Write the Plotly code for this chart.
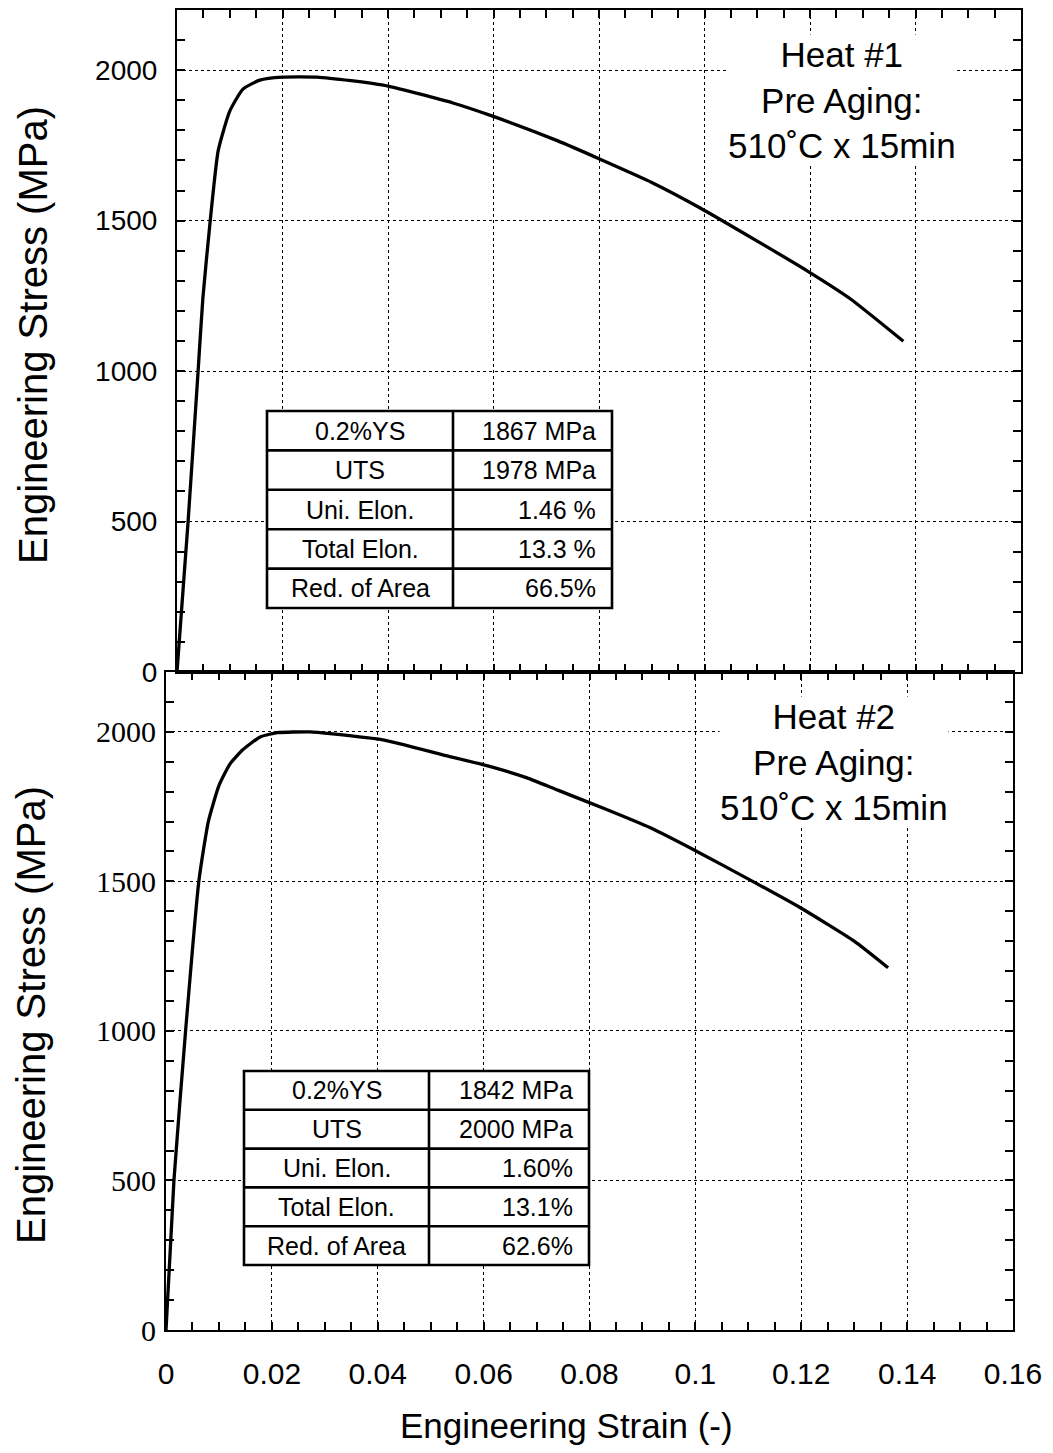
import plotly.graph_objects as go

# page offset (browser body margin) compensated: figure drawn at (8, 8)
OFF = 8
W, H = 1053 - OFF, 1453 - OFF

# ---------------- data ----------------
strain1 = [0, 0.0021, 0.0040, 0.0049, 0.0063, 0.0078, 0.0100, 0.0125, 0.0157, 0.0200,
           0.0265, 0.0330, 0.0400, 0.0523, 0.0597, 0.0722, 0.0801, 0.0900, 0.0991,
           0.1100, 0.1193, 0.1275, 0.1377]
stress1 = [0, 500, 1000, 1242, 1500, 1732, 1864, 1937, 1967, 1977,
           1977, 1965, 1947, 1891, 1848, 1765, 1705, 1627, 1543,
           1432, 1335, 1242, 1099]

strain2 = [0, 0.0015, 0.0037, 0.0062, 0.0080, 0.0100, 0.0121, 0.0145, 0.0178, 0.0210,
           0.0272, 0.0315, 0.0410, 0.0523, 0.0608, 0.0682, 0.0740, 0.0830, 0.0914,
           0.1003, 0.1103, 0.1200, 0.1300, 0.1364]
stress2 = [0, 500, 1000, 1500, 1700, 1820, 1893, 1940, 1983, 1997,
           2000, 1993, 1973, 1923, 1886, 1846, 1805, 1742, 1680,
           1600, 1505, 1410, 1300, 1211]

x_tickvals = [0, 0.02, 0.04, 0.06, 0.08, 0.1, 0.12, 0.14, 0.16]
x_ticktext = ["0", "0.02", "0.04", "0.06", "0.08", "0.1", "0.12", "0.14", "0.16"]
y_tickvals = [0, 500, 1000, 1500, 2000]
y_ticktext = ["0", "500", "1000", "1500", "2000"]

table_labels = ["0.2%YS", "UTS", "Uni. Elon.", "Total Elon.", "Red. of Area"]
table1_values = ["1867 MPa", "1978 MPa", "1.46 %", "13.3 %", "66.5%"]
table2_values = ["1842 MPa", "2000 MPa", "1.60%", "13.1%", "62.6%"]

heat1_text = "Heat #1<br>Pre Aging:<br>510˚C x 15min"
heat2_text = "Heat #2<br>Pre Aging:<br>510˚C x 15min"
x_title = "Engineering Strain (-)"
y_title = "Engineering Stress (MPa)"

# ---------------- helpers (screen px -> paper fraction) ----------------
def px(x):
    return (x - OFF) / W

def py(y):
    return 1 - (y - OFF) / H

SANS = "Liberation Sans, Arial, Helvetica, sans-serif"
SERIF = "Liberation Serif, Times New Roman, serif"

fig = go.Figure()
fig.add_trace(go.Scatter(x=strain1, y=stress1, mode="lines", xaxis="x", yaxis="y",
                         line=dict(color="black", width=3.3, shape="spline", smoothing=0.5),
                         showlegend=False))
fig.add_trace(go.Scatter(x=strain2, y=stress2, mode="lines", xaxis="x2", yaxis="y2",
                         line=dict(color="black", width=3.3, shape="spline", smoothing=0.5),
                         showlegend=False))

def xaxis_common(domain, show_labels):
    return dict(
        domain=domain, range=[0, 0.16], tickvals=x_tickvals, ticktext=x_ticktext,
        showticklabels=show_labels, ticks="inside", ticklen=8, tickwidth=1.5,
        tickcolor="black", mirror="ticks", showline=True, linecolor="black",
        linewidth=2, showgrid=True, gridcolor="black", gridwidth=1.4, griddash="dot",
        zeroline=False, automargin=False,
        minor=dict(dtick=0.005, ticks="inside", ticklen=8, tickwidth=1.5,
                   tickcolor="black", showgrid=False),
        tickfont=dict(family=SANS, size=30, color="black"),
        ticklabelstandoff=16,
    )

def yaxis_common(domain, font, anchor, standoff):
    return dict(
        domain=domain, range=[0, 2200], tickvals=y_tickvals, ticktext=y_ticktext,
        ticks="inside", ticklen=8, tickwidth=1.5, tickcolor="black",
        mirror="ticks", showline=True, linecolor="black", linewidth=2,
        showgrid=True, gridcolor="black", gridwidth=1.4, griddash="dot",
        zeroline=False, anchor=anchor, automargin=False,
        minor=dict(dtick=100, ticks="inside", ticklen=8, tickwidth=1.5,
                   tickcolor="black", showgrid=False),
        tickfont=font, ticklabelstandoff=standoff,
    )

top_x = [px(177), px(1021)]
bot_x = [px(166), px(1013)]
top_y = [py(672), py(10)]
bot_y = [py(1330), py(672)]

fig.update_layout(
    template="none",
    width=W, height=H,
    margin=dict(l=0, r=0, t=0, b=0, pad=0, autoexpand=False),
    paper_bgcolor="white", plot_bgcolor="white",
    showlegend=False,
    xaxis=dict(**xaxis_common(top_x, False), anchor="y"),
    xaxis2=dict(**xaxis_common(bot_x, True), anchor="y2"),
    yaxis=yaxis_common(top_y, dict(family=SANS, size=28, color="black"), "x", 12),
    yaxis2=yaxis_common(bot_y, dict(family=SERIF, size=30, color="black"), "x2", 2),
)

annotations = []
shapes = []

# axis titles
annotations.append(dict(text=x_title, xref="paper", yref="paper", x=px(566), y=py(1425),
                        xanchor="center", yanchor="middle", showarrow=False,
                        font=dict(family=SANS, size=35, color="black")))
annotations.append(dict(text=y_title, xref="paper", yref="paper", x=px(33), y=py(335),
                        xanchor="center", yanchor="middle", showarrow=False, textangle=-90,
                        font=dict(family=SANS, size=40, color="black")))
annotations.append(dict(text=y_title, xref="paper", yref="paper", x=px(31), y=py(1015),
                        xanchor="center", yanchor="middle", showarrow=False, textangle=-90,
                        font=dict(family=SANS, size=40, color="black")))

# heat labels
annotations.append(dict(text=heat1_text, xref="paper", yref="paper", x=px(842), y=py(100),
                        xanchor="center", yanchor="middle", showarrow=False,
                        bgcolor="white", borderpad=0,
                        font=dict(family=SANS, size=35, color="black")))
annotations.append(dict(text=heat2_text, xref="paper", yref="paper", x=px(834), y=py(762),
                        xanchor="center", yanchor="middle", showarrow=False,
                        bgcolor="white", borderpad=0,
                        font=dict(family=SANS, size=35, color="black")))

# tables
def add_table(left, right, divider, top, bottom, values):
    n = len(table_labels)
    rh = (bottom - top) / n
    shapes.append(dict(type="rect", xref="paper", yref="paper",
                       x0=px(left), x1=px(right), y0=py(bottom), y1=py(top),
                       fillcolor="white", line=dict(color="black", width=2.6), layer="above"))
    shapes.append(dict(type="line", xref="paper", yref="paper",
                       x0=px(divider), x1=px(divider), y0=py(bottom), y1=py(top),
                       line=dict(color="black", width=2.6), layer="above"))
    for i in range(1, n):
        yy = top + i * rh
        shapes.append(dict(type="line", xref="paper", yref="paper",
                           x0=px(left), x1=px(right), y0=py(yy), y1=py(yy),
                           line=dict(color="black", width=2.6), layer="above"))
    for i, (lab, val) in enumerate(zip(table_labels, values)):
        yc = top + (i + 0.5) * rh
        annotations.append(dict(text=lab, xref="paper", yref="paper",
                                x=px((left + divider) / 2), y=py(yc),
                                xanchor="center", yanchor="middle", showarrow=False,
                                font=dict(family=SANS, size=25, color="black")))
        annotations.append(dict(text=val, xref="paper", yref="paper",
                                x=px(right - 14), y=py(yc),
                                xanchor="right", yanchor="middle", showarrow=False,
                                font=dict(family=SANS, size=25, color="black")))

add_table(267, 612, 453, 411, 608, table1_values)
add_table(244, 589, 429, 1071, 1265, table2_values)

fig.update_layout(annotations=annotations, shapes=shapes)
fig.write_html("out.html")
